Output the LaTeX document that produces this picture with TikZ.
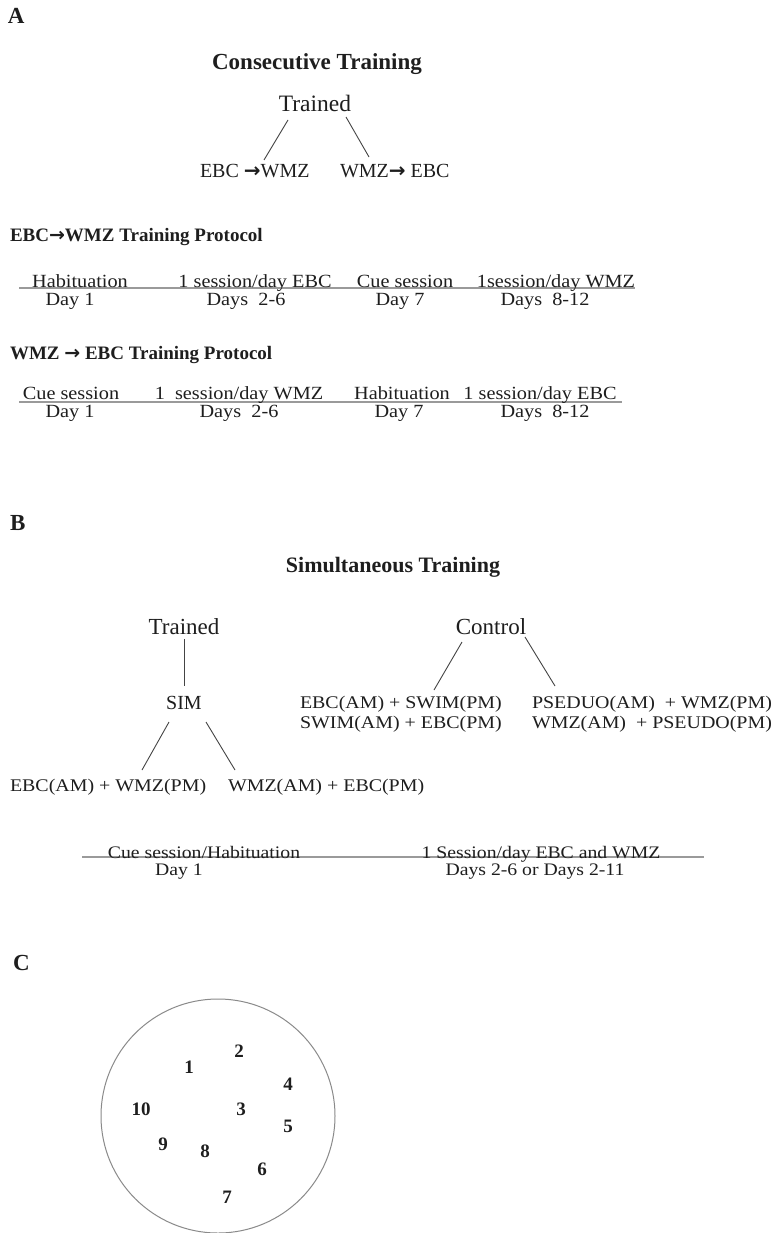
\documentclass[tikz,border=0pt]{standalone}
\usepackage{fontspec}
\setmainfont{Liberation Serif}
\newfontfamily\arrfont{DejaVu Sans}
\newfontfamily\wideA[FakeStretch=1.09]{Liberation Serif}
\newfontfamily\wideB[FakeStretch=1.12]{Liberation Serif}
\usetikzlibrary{calc}
\definecolor{ink}{HTML}{1E1E1E}
\definecolor{treeline}{HTML}{444444}
\definecolor{protoline}{HTML}{9A9A9A}
\definecolor{poolline}{HTML}{8A8A8A}
\newcommand{\fs}[1]{\fontsize{#1}{#1}\selectfont}
\newcommand{\arw}{{\arrfont\bfseries →}}
\begin{document}
\begin{tikzpicture}[x=1pt,y=-1pt,
  every node/.style={inner sep=0pt,outer sep=0pt,text=ink},
  lbl/.style={anchor=base west,font=\fs{23}\bfseries},
  ttl/.style={anchor=base,font=\fs{23}\bfseries},
  grp/.style={anchor=base,font=\fs{23.5}},
  armA/.style={anchor=base west,font=\fs{20}},
  phead/.style={anchor=base west,font=\fs{19}\bfseries},
  prow/.style={anchor=base,font=\wideA\fs{18.6}},
  combo/.style={anchor=base west,font=\wideB\fs{17.8}},
  brow/.style={anchor=base,font=\wideB\fs{17.6}},
  digit/.style={anchor=center,font=\fs{19}\bfseries},
  conn/.style={draw=treeline,line width=0.9pt},
  pline/.style={draw=protoline,line width=1.8pt},
  pool/.style={draw=poolline,line width=1pt}]
\useasboundingbox[fill=white] (0,0) rectangle (780,1233);

% ---------------- A ----------------
\node[lbl] (labA) at (8,24) {A};
\node[ttl] (consec) at (317,70) {Consecutive Training};
\node[grp] (trA) at (315,112) {Trained};
\node[armA] (ew) at (200,178) {EBC \arw WMZ};
\node[armA] (we) at (340,178) {WMZ\arw\ EBC};
\draw[conn] ($(trA.base)+(-27,8)$) -- ($(ew.base west)+(64,-18)$);
\draw[conn] ($(trA.base)+(31,5)$) -- ($(we.base west)+(29,-21)$);

% protocol 1
\node[phead] (h1) at (10,242) {EBC\arw WMZ Training Protocol};
\coordinate (l1s) at (19,288);
\coordinate (l1e) at (635,288);
\draw[pline] (l1s) -- (l1e);
\node[prow] (p1a) at (80,287) {Habituation};
\node[prow] (p1b) at (255,287) {1 session/day EBC};
\node[prow] (p1c) at (405,287) {Cue session};
\node[prow] (p1d) at (556,287) {1session/day WMZ};
\node[prow] (d1a) at (70,305) {Day 1};
\node[prow] (d1b) at (246,305) {Days\ \ 2-6};
\node[prow] (d1c) at (400,305) {Day 7};
\node[prow] (d1d) at (545,305) {Days\ \ 8-12};

% protocol 2
\node[phead] (h2) at (10,359) {WMZ \arw\ EBC Training Protocol};
\coordinate (l2s) at (19,402);
\coordinate (l2e) at (622,402);
\draw[pline] (l2s) -- (l2e);
\node[prow] (p2a) at (71,399) {Cue session};
\node[prow] (p2b) at (239,399) {1\ \ session/day WMZ};
\node[prow] (p2c) at (402,399) {Habituation};
\node[prow] (p2d) at (540,399) {1 session/day EBC};
\node[prow] (d2a) at (70,417) {Day 1};
\node[prow] (d2b) at (239,417) {Days\ \ 2-6};
\node[prow] (d2c) at (399,417) {Day 7};
\node[prow] (d2d) at (545,417) {Days\ \ 8-12};

% ---------------- B ----------------
\node[lbl] (labB) at (10,530) {B};
\node[ttl,font=\fs{22}\bfseries] (simul) at (393,572) {Simultaneous Training};
\node[grp,font=\fs{23}] (trB) at (184,634) {Trained};
\node[grp,font=\fs{23}] (ctl) at (491,634) {Control};
\node[grp,font=\fs{20}] (sim) at (184,709) {SIM};
\draw[conn] ($(trB.base)+(0,5)$) -- ($(sim.base)+(0,-23)$);
\node[combo] (c1) at (10,791) {EBC(AM) + WMZ(PM)};
\node[combo] (c2) at (228,791) {WMZ(AM) + EBC(PM)};
\draw[conn] ($(sim.base)+(-15,13)$) -- ($(c1.base west)+(132,-21)$);
\draw[conn] ($(sim.base)+(22,13)$) -- ($(c2.base west)+(7,-21)$);
\node[combo] (cc1a) at (300,708) {EBC(AM) + SWIM(PM)};
\node[combo] (cc1b) at (300,728) {SWIM(AM) + EBC(PM)};
\node[combo] (cc2a) at (532,708) {PSEDUO(AM)\ \ + WMZ(PM)};
\node[combo] (cc2b) at (532,728) {WMZ(AM)\ \ + PSEUDO(PM)};
\draw[conn] ($(ctl.base)+(-29,8)$) -- ($(cc1a.base west)+(134,-18)$);
\draw[conn] ($(ctl.base)+(34,3)$) -- ($(cc2a.base west)+(23,-22)$);

\coordinate (l3s) at (82,857);
\coordinate (l3e) at (704,857);
\draw[pline] (l3s) -- (l3e);
\node[brow] (b1) at (204,858) {Cue session/Habituation};
\node[brow] (b2) at (179,875) {Day 1};
\node[brow] (b3) at (541,858) {1 Session/day EBC and WMZ};
\node[brow] (b4) at (535,875) {Days 2-6 or Days 2-11};

% ---------------- C ----------------
\node[lbl] (labC) at (13,970) {C};
\draw[pool] (218,1116) circle[radius=117];
\node[digit] (n1) at (189,1067) {1};
\node[digit] (n2) at (239,1051) {2};
\node[digit] (n3) at (241,1109) {3};
\node[digit] (n4) at (288,1084) {4};
\node[digit] (n5) at (288,1126) {5};
\node[digit] (n6) at (262,1169) {6};
\node[digit] (n7) at (227,1197) {7};
\node[digit] (n8) at (205,1151) {8};
\node[digit] (n9) at (163,1144) {9};
\node[digit] (n10) at (141,1109) {10};
\end{tikzpicture}
\end{document}
